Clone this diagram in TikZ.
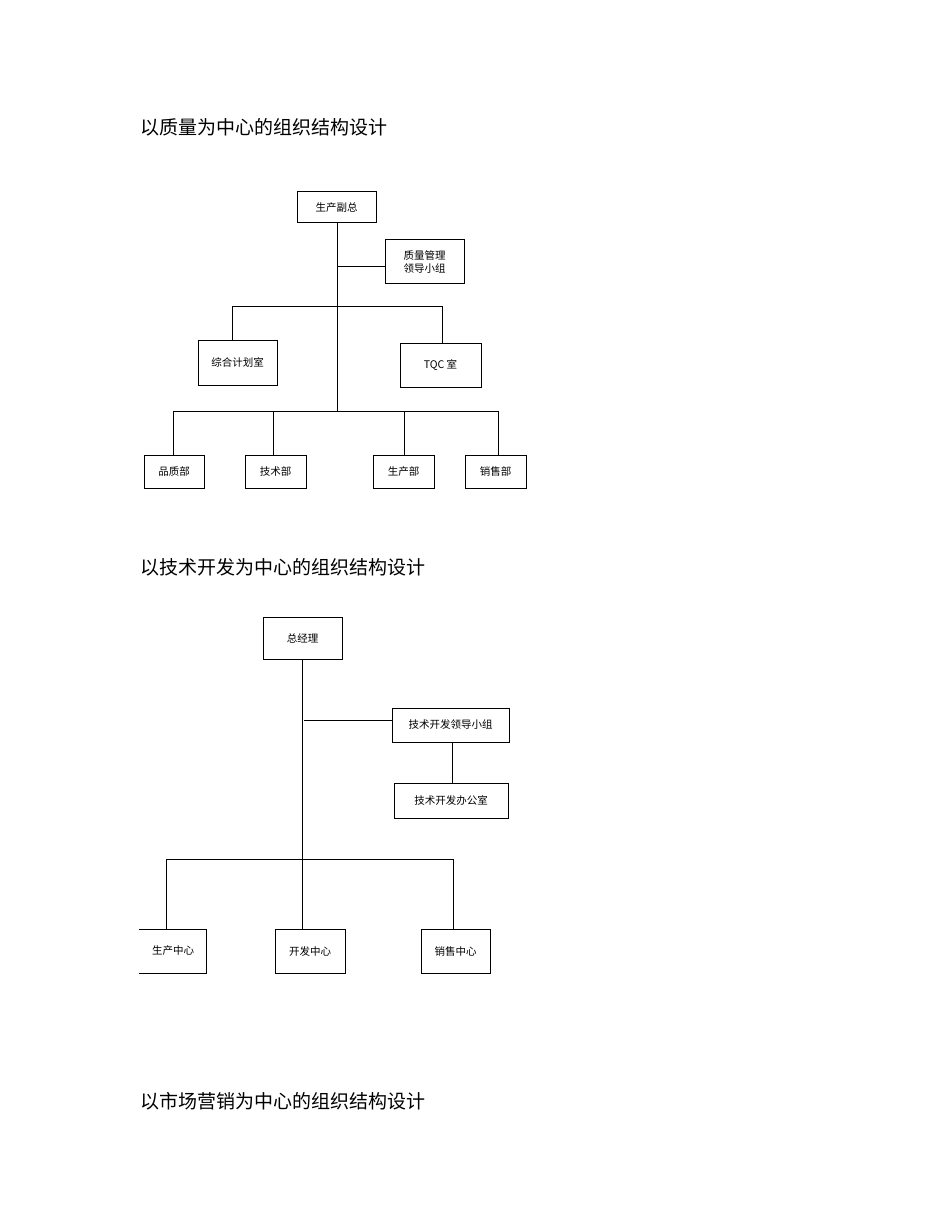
\documentclass[tikz,border=0pt]{standalone}
\usepackage{fontspec}
\newfontfamily\cjk{Noto Sans CJK SC}
\begin{document}
\begin{tikzpicture}[x=1pt,y=-1pt,
  box/.style={draw,line width=1pt,font=\cjk\fontsize{10.5}{13}\selectfont,inner sep=0pt,align=center},
  ttl/.style={anchor=west,font=\cjk\fontsize{19}{22}\selectfont,inner sep=0pt},
  ln/.style={line width=1pt}]
\useasboundingbox[fill=white] (0,0) rectangle (950,1230);
\node[ttl] (t1) at (140,127) {以质量为中心的组织结构设计};
\node[ttl] (t2) at (140,567) {以技术开发为中心的组织结构设计};
\node[ttl] (t3) at (140,1101) {以市场营销为中心的组织结构设计};
% diagram 1
\node[box,minimum width=79,minimum height=31] (a) at (336.5,207.5) {生产副总};
\node[box,minimum width=79,minimum height=44] (q) at (424.5,262) {质量管理\\领导小组};
\node[box,minimum width=79,minimum height=45] (z) at (237.5,362.5) {综合计划室};
\node[box,minimum width=81,minimum height=44] (tqc) at (440.5,365) {TQC 室};
\node[box,minimum width=60,minimum height=33] (b1) at (174,471.5) {品质部};
\node[box,minimum width=61,minimum height=33] (b2) at (275.5,471.5) {技术部};
\node[box,minimum width=61,minimum height=33] (b3) at (403.5,471.5) {生产部};
\node[box,minimum width=61,minimum height=33] (b4) at (495.5,471.5) {销售部};
\coordinate (j1) at (337,411);
\draw[ln] (a.south -| j1) -- (j1);
\draw[ln] (337,267) -- (q.west |- 0,267);
\draw[ln] (232,306) -- (442,306);
\draw[ln] (232,306) -- (z.north -| 232,0);
\draw[ln] (442,306) -- (tqc.north -| 442,0);
\draw[ln] (173,411) -- (498,411);
\draw[ln] (173,411) -- (b1.north -| 173,0);
\draw[ln] (273,411) -- (b2.north -| 273,0);
\draw[ln] (404,411) -- (b3.north -| 404,0);
\draw[ln] (498,411) -- (b4.north -| 498,0);
% diagram 2
\node[box,minimum width=79,minimum height=42] (g) at (302.5,638) {总经理};
\node[box,minimum width=117,minimum height=34] (k) at (450.5,725) {技术开发领导小组};
\node[box,minimum width=114,minimum height=35] (o) at (451,800.5) {技术开发办公室};
\node[box,minimum width=70,minimum height=44] (c2) at (310,951) {开发中心};
\node[box,minimum width=69,minimum height=44] (c3) at (455.5,951) {销售中心};
\node[font=\cjk\fontsize{10.5}{13}\selectfont,inner sep=0pt] (c1) at (173,951) {生产中心};
\coordinate (c1tl) at (139,929);
\coordinate (c1tr) at (206,929);
\coordinate (c1br) at (206,973);
\coordinate (c1bl) at (139,973);
\draw[ln] (c1tl) -- (c1tr) -- (c1br) -- (c1bl);
\coordinate (j2) at (302,859);
\draw[ln] (g.south -| j2) -- (j2);
\draw[ln] (304,720) -- (k.west |- 0,720);
\draw[ln] (k.south -| 452,0) -- (o.north -| 452,0);
\draw[ln] (166,859) -- (453,859);
\draw[ln] (166,859) -- (166,929);
\draw[ln] (302,859) -- (c2.north -| 302,0);
\draw[ln] (453,859) -- (c3.north -| 453,0);
\end{tikzpicture}
\end{document}
